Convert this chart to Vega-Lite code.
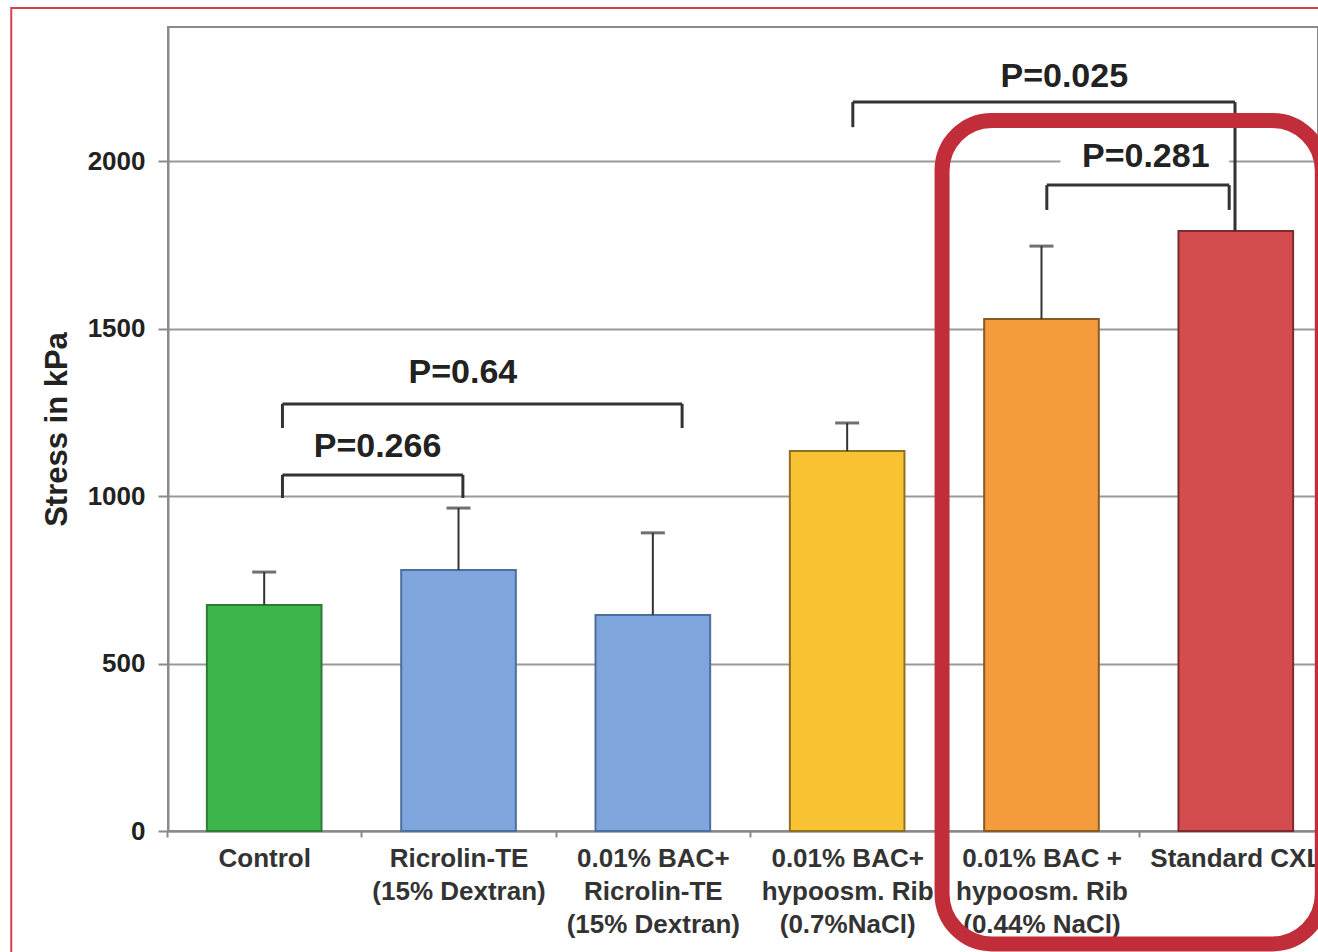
{
  "$schema": "https://vega.github.io/schema/vega-lite/v6.json",
  "width": 1150,
  "height": 804,
  "autosize": "none",
  "padding": {"left": 168, "top": 27, "right": 0, "bottom": 121},
  "background": "white",
  "config": {
    "font": "Liberation Sans",
    "view": {"stroke": "#8a8a8a", "strokeWidth": 2},
    "axisX": {
      "labelFont": "Liberation Sans",
      "labelFontSize": 26,
      "labelFontWeight": "bold",
      "labelColor": "#333333",
      "labelLineHeight": 33,
      "labelBaseline": "top",
      "labelPadding": 8,
      "labelAngle": 0,
      "labelOverlap": false,
      "tickSize": 6,
      "tickColor": "#8a8a8a",
      "tickWidth": 2,
      "domainColor": "#8a8a8a",
      "domainWidth": 2,
      "grid": false
    },
    "axisY": {
      "labelFont": "Liberation Sans",
      "labelFontSize": 26,
      "labelFontWeight": "bold",
      "labelColor": "#222222",
      "labelPadding": 13,
      "tickSize": 10,
      "tickColor": "#8a8a8a",
      "tickWidth": 2,
      "domainColor": "#8a8a8a",
      "domainWidth": 2,
      "grid": true,
      "gridColor": "#999999",
      "gridWidth": 2,
      "titleFont": "Liberation Sans",
      "titleFontSize": 31,
      "titleFontWeight": "bold",
      "titleColor": "#222222",
      "titlePadding": 14
    }
  },
  "datasets": {
    "bars": [
      {"group": "Control", "stress": 675, "upper": 773},
      {"group": "Ricrolin-TE\n(15% Dextran)", "stress": 779, "upper": 964},
      {"group": "0.01% BAC+\nRicrolin-TE\n(15% Dextran)", "stress": 645, "upper": 890},
      {"group": "0.01% BAC+\nhypoosm. Rib\n(0.7%NaCl)", "stress": 1134, "upper": 1218},
      {"group": "0.01% BAC +\nhypoosm. Rib\n(0.44% NaCl)", "stress": 1528, "upper": 1746},
      {"group": "Standard CXL", "stress": 1791, "upper": null}
    ],
    "brackets": [
      {"p": "P=0.266", "left": 0.09, "right": 1.02, "top": 1063, "leftEnd": 994, "rightEnd": 994, "textPos": 0.58, "textY": 1116},
      {"p": "P=0.64", "left": 0.09, "right": 2.15, "top": 1275, "leftEnd": 1203, "rightEnd": 1203, "textPos": 1.02, "textY": 1337},
      {"p": "P=0.025", "left": 3.03, "right": 5.0, "top": 2176, "leftEnd": 2101, "rightEnd": 1791, "textPos": 4.12, "textY": 2221},
      {"p": "P=0.281", "left": 4.03, "right": 4.97, "top": 1928, "leftEnd": 1854, "rightEnd": 1854, "textPos": 4.54, "textY": 1982}
    ],
    "textBacks": [
      {"p": "P=0.281", "from": 4.1, "to": 4.97, "bottom": 1972, "top": 2038}
    ],
    "highlight": [
      {"from": 3.49, "to": 5.45, "bottom": -337, "top": 2121}
    ],
    "frame": [
      {"from": -1.308, "to": 6.5, "bottom": -600, "top": 2457}
    ]
  },
  "layer": [
    {
      "data": {"name": "bars"},
      "layer": [
        {
          "mark": {"type": "bar", "strokeWidth": 2},
          "encoding": {
            "x": {
              "field": "group", "type": "nominal", "sort": null, "title": null,
              "scale": {"range": [0, 1164], "paddingInner": 0.41, "paddingOuter": 0.2},
              "axis": {"labelExpr": "split(datum.label, '\\n')", "tickOffset": -97.16, "labelOffset": 97.16}
            },
            "y": {
              "field": "stress", "type": "quantitative", "title": "Stress in kPa",
              "scale": {"domain": [0, 2400]},
              "axis": {"values": [0, 500, 1000, 1500, 2000], "format": "d"}
            },
            "color": {
              "field": "group", "type": "nominal", "sort": null, "legend": null,
              "scale": {"range": ["#3db54a", "#7ea6dc", "#7ea6dc", "#f9c232", "#f49c3c", "#d54c4e"]}
            },
            "stroke": {
              "field": "group", "type": "nominal", "sort": null, "legend": null,
              "scale": {"range": ["#2b7d34", "#4e6f9e", "#4e6f9e", "#8c7224", "#8a5a26", "#7c2c2e"]}
            }
          }
        },
        {
          "transform": [{"filter": "datum.upper != null"}],
          "mark": {"type": "rule", "color": "#333333", "strokeWidth": 2},
          "encoding": {
            "x": {"field": "group", "type": "nominal", "sort": null, "title": null},
            "y": {"field": "stress", "type": "quantitative", "title": "Stress in kPa"},
            "y2": {"field": "upper"}
          }
        },
        {
          "transform": [{"filter": "datum.upper != null"}],
          "mark": {"type": "tick", "color": "#333333", "size": 24, "thickness": 3, "orient": "horizontal"},
          "encoding": {
            "x": {"field": "group", "type": "nominal", "sort": null, "title": null},
            "y": {"field": "upper", "type": "quantitative", "title": "Stress in kPa"}
          }
        }
      ]
    },
    {
      "layer": [
        {
          "data": {"name": "textBacks"},
          "mark": {"type": "rect", "fill": "white", "stroke": null},
          "encoding": {
            "x": {"field": "from", "type": "quantitative", "scale": {"domain": [-0.495, 5.495], "range": [0, 1164]}, "axis": null},
            "x2": {"field": "to"},
            "y": {"field": "bottom", "type": "quantitative", "title": "Stress in kPa"},
            "y2": {"field": "top"}
          }
        },
        {
          "data": {"name": "brackets"},
          "mark": {"type": "rule", "color": "#333333", "strokeWidth": 3},
          "encoding": {
            "x": {"field": "left", "type": "quantitative", "axis": null},
            "x2": {"field": "right"},
            "y": {"field": "top", "type": "quantitative", "title": "Stress in kPa"}
          }
        },
        {
          "data": {"name": "brackets"},
          "mark": {"type": "rule", "color": "#333333", "strokeWidth": 3},
          "encoding": {
            "x": {"field": "left", "type": "quantitative", "axis": null},
            "y": {"field": "top", "type": "quantitative", "title": "Stress in kPa"},
            "y2": {"field": "leftEnd"}
          }
        },
        {
          "data": {"name": "brackets"},
          "mark": {"type": "rule", "color": "#333333", "strokeWidth": 3},
          "encoding": {
            "x": {"field": "right", "type": "quantitative", "axis": null},
            "y": {"field": "top", "type": "quantitative", "title": "Stress in kPa"},
            "y2": {"field": "rightEnd"}
          }
        },
        {
          "data": {"name": "brackets"},
          "mark": {"type": "text", "font": "Liberation Sans", "fontSize": 34, "fontWeight": "bold", "color": "#222222", "align": "center", "baseline": "alphabetic"},
          "encoding": {
            "x": {"field": "textPos", "type": "quantitative", "axis": null},
            "y": {"field": "textY", "type": "quantitative", "title": "Stress in kPa"},
            "text": {"field": "p"}
          }
        },
        {
          "data": {"name": "highlight"},
          "mark": {"type": "rect", "fill": null, "fillOpacity": 0, "stroke": "#c22d3a", "strokeWidth": 15, "cornerRadius": 50},
          "encoding": {
            "x": {"field": "from", "type": "quantitative", "axis": null},
            "x2": {"field": "to"},
            "y": {"field": "bottom", "type": "quantitative", "title": "Stress in kPa"},
            "y2": {"field": "top"}
          }
        },
        {
          "data": {"name": "frame"},
          "mark": {"type": "rect", "fill": null, "fillOpacity": 0, "stroke": "#d4424e", "strokeWidth": 2},
          "encoding": {
            "x": {"field": "from", "type": "quantitative", "axis": null},
            "x2": {"field": "to"},
            "y": {"field": "bottom", "type": "quantitative", "title": "Stress in kPa"},
            "y2": {"field": "top"}
          }
        }
      ]
    }
  ],
  "resolve": {"scale": {"x": "independent"}}
}
